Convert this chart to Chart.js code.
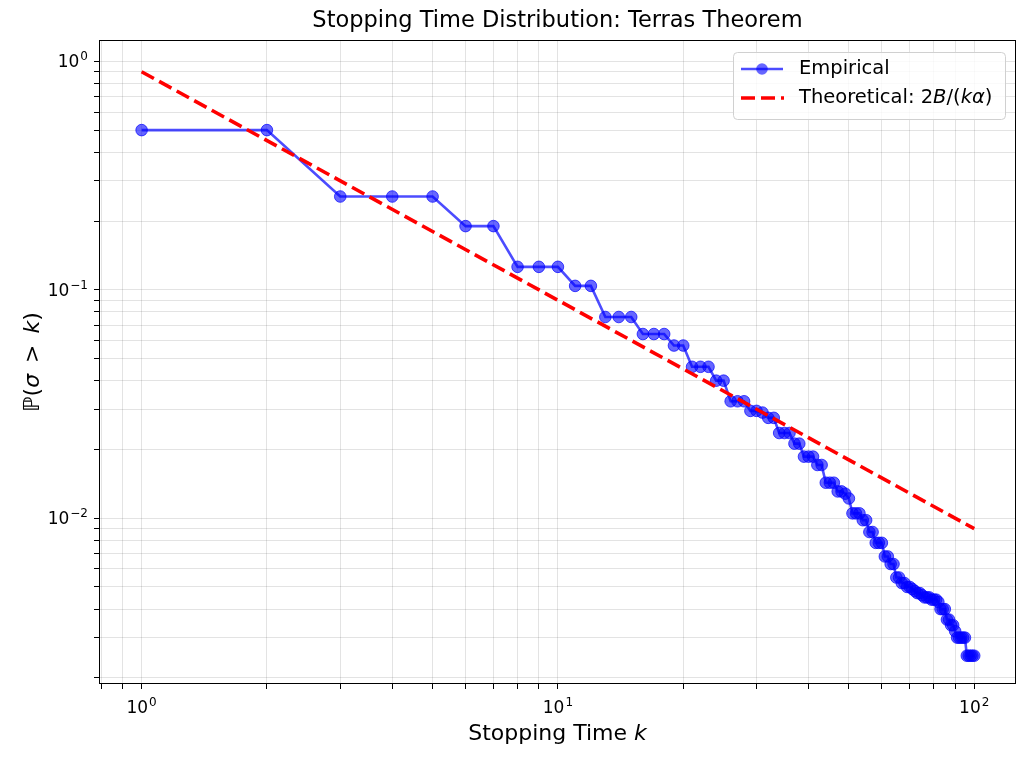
<!DOCTYPE html>
<html>
<head>
<meta charset="utf-8">
<script src="https://cdn.jsdelivr.net/npm/chart.js@4.4.0/dist/chart.umd.min.js"></script>
<style>
  html, body { margin: 0; padding: 0; background: #fff; }
  #wrap { width: 1029px; height: 762px; }
</style>
</head>
<body>
<div id="wrap"><canvas id="myChart" width="1029" height="762"></canvas></div>
<script>
// stopping time k and empirical P(sigma > k)
const stoppingTimes = [
  1, 2, 3, 4, 5, 6, 7, 8, 9, 10,
  11, 12, 13, 14, 15, 16, 17, 18, 19, 20,
  21, 22, 23, 24, 25, 26, 27, 28, 29, 30,
  31, 32, 33, 34, 35, 36, 37, 38, 39, 40,
  41, 42, 43, 44, 45, 46, 47, 48, 49, 50,
  51, 52, 53, 54, 55, 56, 57, 58, 59, 60,
  61, 62, 63, 64, 65, 66, 67, 68, 69, 70,
  71, 72, 73, 74, 75, 76, 77, 78, 79, 80,
  81, 82, 83, 84, 85, 86, 87, 88, 89, 90,
  91, 92, 93, 94, 95, 96, 97, 98, 99, 100
];
const survivalProb = [
  0.5, 0.5, 0.256, 0.256, 0.256, 0.19, 0.19, 0.126, 0.126, 0.126,
  0.104, 0.104, 0.076, 0.076, 0.076, 0.064, 0.064, 0.064, 0.057, 0.057,
  0.046, 0.046, 0.046, 0.040, 0.040, 0.0325, 0.0325, 0.0325, 0.0295, 0.0295,
  0.029, 0.0275, 0.0275, 0.0236, 0.0236, 0.0236, 0.0212, 0.0212, 0.0186, 0.0186,
  0.0186, 0.0171, 0.0171, 0.0143, 0.0143, 0.0143, 0.0131, 0.0131, 0.0128, 0.0122,
  0.0105, 0.0105, 0.0105, 0.0098, 0.0098, 0.0087, 0.0087, 0.0078, 0.0078, 0.0078,
  0.0068, 0.0068, 0.0063, 0.0063, 0.0055, 0.0055, 0.0052, 0.0052, 0.0050, 0.0050,
  0.0049, 0.0048, 0.0047, 0.0047, 0.0046, 0.0045, 0.0045, 0.0045, 0.0044, 0.0044,
  0.0044, 0.0043, 0.0040, 0.0040, 0.0040, 0.0036, 0.0036, 0.0034, 0.0034, 0.0032,
  0.0030, 0.0030, 0.0030, 0.0030, 0.0030, 0.0025, 0.0025, 0.0025, 0.0025, 0.0025
];
// theoretical 2B/(k alpha) line, end points
const theoryK = [1, 100];
const theoryProb = [0.9, 0.009];

const xTickValues = [0.8, 0.9, 1, 2, 3, 4, 5, 6, 7, 8, 9, 10, 20, 30, 40, 50, 60, 70, 80, 90, 100];
const yTickValues = [
  0.002, 0.003, 0.004, 0.005, 0.006, 0.007, 0.008, 0.009,
  0.01, 0.02, 0.03, 0.04, 0.05, 0.06, 0.07, 0.08, 0.09,
  0.1, 0.2, 0.3, 0.4, 0.5, 0.6, 0.7, 0.8, 0.9, 1
];

const FONT = "'DejaVu Sans', sans-serif";

function isPow10(v) {
  const e = Math.log10(v);
  return Math.abs(e - Math.round(e)) < 1e-9;
}
function expText(v) {
  return String(Math.round(Math.log10(v))).replace('-', '\u2212');
}

// draws text made of regular / italic pieces
function drawRuns(ctx, runs, x, y, size, align) {
  let total = 0;
  runs.forEach(r => {
    ctx.font = (r.i ? 'italic ' : '') + size + 'px ' + FONT;
    r.w = ctx.measureText(r.t).width;
    total += r.w;
  });
  let cx = align === 'center' ? x - total / 2 : x;
  ctx.textAlign = 'left';
  ctx.textBaseline = 'middle';
  runs.forEach(r => {
    ctx.font = (r.i ? 'italic ' : '') + size + 'px ' + FONT;
    ctx.fillText(r.t, cx, y);
    cx += r.w;
  });
}

// "10" with a raised exponent; anchor is right edge or centre
function drawPow(ctx, v, x, baseY, align) {
  ctx.textBaseline = 'alphabetic';
  ctx.textAlign = 'left';
  ctx.font = '17px ' + FONT;
  const w1 = ctx.measureText('10').width;
  ctx.font = '12px ' + FONT;
  const e = expText(v);
  const w2 = ctx.measureText(e).width;
  const left = align === 'right' ? x - w1 - w2 - 1 : x - (w1 + w2 + 1) / 2;
  ctx.font = '17px ' + FONT;
  ctx.fillText('10', left, baseY);
  ctx.font = '12px ' + FONT;
  ctx.fillText(e, left + w1 + 1, baseY - 7);
}

const decorations = {
  id: 'decorations',
  afterDraw(chart) {
    const ctx = chart.ctx;
    const a = chart.chartArea;
    ctx.save();

    // frame
    ctx.strokeStyle = '#000';
    ctx.lineWidth = 1;
    ctx.strokeRect(a.left + 0.5, a.top + 0.5, a.right - a.left - 1, a.bottom - a.top - 1);

    // tick labels
    ctx.fillStyle = '#000';
    xTickValues.filter(isPow10).forEach(v => {
      drawPow(ctx, v, chart.scales.x.getPixelForValue(v), a.bottom + 29, 'center');
    });
    yTickValues.filter(isPow10).forEach(v => {
      drawPow(ctx, v, 88, chart.scales.y.getPixelForValue(v) + 6, 'right');
    });

    const midX = (a.left + a.right) / 2;
    drawRuns(ctx, [{ t: 'Stopping Time Distribution: Terras Theorem' }], midX, 21, 22.5, 'center');
    drawRuns(ctx, [{ t: 'Stopping Time ' }, { t: 'k', i: true }], midX, 734, 22, 'center');

    ctx.save();
    ctx.translate(33, (a.top + a.bottom) / 2);
    ctx.rotate(-Math.PI / 2);
    drawRuns(ctx, [{ t: 'ℙ(' }, { t: 'σ', i: true }, { t: '\u2002>\u2002' }, { t: 'k', i: true }, { t: ')' }], 0, 0, 22, 'center');
    ctx.restore();

    // legend box
    const bx = 733, by = 52, bw = 272, bh = 67;
    ctx.beginPath();
    ctx.roundRect(bx + 0.5, by + 0.5, bw, bh, 4);
    ctx.fillStyle = 'rgba(255,255,255,0.8)';
    ctx.fill();
    ctx.strokeStyle = '#d0d0d0';
    ctx.lineWidth = 1;
    ctx.stroke();

    const ds = chart.data.datasets;
    // empirical entry
    let ly = 69;
    ctx.strokeStyle = ds[0].borderColor;
    ctx.lineWidth = ds[0].borderWidth;
    ctx.beginPath(); ctx.moveTo(741, ly); ctx.lineTo(783, ly); ctx.stroke();
    ctx.beginPath(); ctx.arc(762, ly, 5.8, 0, Math.PI * 2);
    ctx.fillStyle = ds[0].pointBackgroundColor; ctx.fill();
    ctx.fillStyle = '#000';
    drawRuns(ctx, [{ t: ds[0].label }], 799, ly, 19.5, 'left');

    // theoretical entry
    ly = 98;
    ctx.strokeStyle = ds[1].borderColor;
    ctx.lineWidth = ds[1].borderWidth;
    ctx.setLineDash(ds[1].borderDash);
    ctx.beginPath(); ctx.moveTo(741, ly); ctx.lineTo(784, ly); ctx.stroke();
    ctx.setLineDash([]);
    ctx.fillStyle = '#000';
    drawRuns(ctx, [{ t: 'Theoretical: 2' }, { t: 'B', i: true }, { t: '/(' }, { t: 'kα', i: true }, { t: ')' }], 799, ly, 19.5, 'left');

    ctx.restore();
  }
};

const gridStyle = { color: 'rgba(0,0,0,0.11)', tickColor: '#000', tickLength: 5, lineWidth: 1 };
const tickStyle = { autoSkip: false, maxRotation: 0, padding: 0, callback: () => '' };

const ctx = document.getElementById('myChart').getContext('2d');
const myChart = new Chart(ctx, {
  type: 'line',
  data: {
    datasets: [{
      label: 'Empirical',
      data: stoppingTimes.map((k, i) => ({ x: k, y: survivalProb[i] })),
      borderColor: 'rgba(0,0,255,0.7)',
      backgroundColor: 'rgba(0,0,255,0.7)',
      pointBackgroundColor: 'rgba(0,0,255,0.6)',
      pointBorderColor: 'rgba(0,0,255,0.7)',
      pointBorderWidth: 1,
      pointRadius: 5.8,
      borderWidth: 2.6,
      tension: 0,
      order: 2
    }, {
      label: 'Theoretical: 2B/(kα)',
      data: theoryK.map((k, i) => ({ x: k, y: theoryProb[i] })),
      borderColor: '#ff0000',
      borderWidth: 3.6,
      borderDash: [14, 6],
      pointRadius: 0,
      tension: 0,
      order: 1
    }]
  },
  options: {
    responsive: false,
    animation: false,
    devicePixelRatio: 1,
    layout: { padding: { top: 40, right: 13, left: 0, bottom: 0 } },
    plugins: {
      legend: { display: false },
      title: { display: false },
      tooltip: { enabled: false }
    },
    scales: {
      x: {
        type: 'logarithmic',
        min: 0.79,
        max: 126,
        afterBuildTicks: s => { s.ticks = xTickValues.map(v => ({ value: v })); },
        afterFit: s => { s.height = 78; },
        ticks: tickStyle,
        grid: gridStyle,
        border: { display: false }
      },
      y: {
        type: 'logarithmic',
        min: 0.00188,
        max: 1.24,
        afterBuildTicks: s => { s.ticks = yTickValues.map(v => ({ value: v })); },
        afterFit: s => { s.width = 99; },
        ticks: tickStyle,
        grid: gridStyle,
        border: { display: false }
      }
    }
  },
  plugins: [decorations]
});
</script>
</body>
</html>
